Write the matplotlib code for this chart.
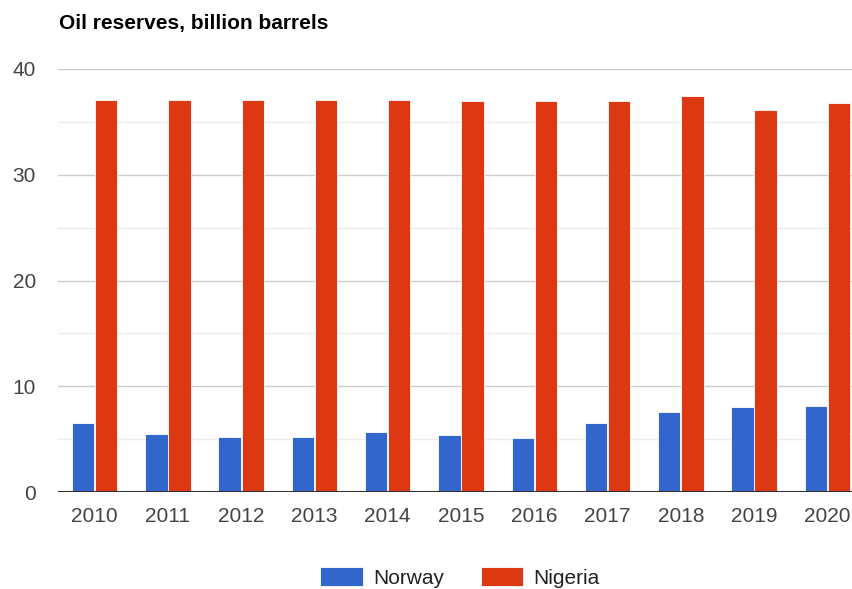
import matplotlib
matplotlib.use("Agg")
import matplotlib.pyplot as plt
import numpy as np

years = ["2010", "2011", "2012", "2013", "2014", "2015", "2016", "2017", "2018", "2019", "2020"]
norway = [6.55, 5.5, 5.2, 5.2, 5.65, 5.35, 5.1, 6.55, 7.6, 8.0, 8.15]
nigeria = [37.1, 37.1, 37.1, 37.1, 37.1, 37.0, 37.0, 37.0, 37.4, 36.1, 36.8]
series_names = ["Norway", "Nigeria"]
colors = ["#3366CC", "#DC3912"]
title = "Oil reserves, billion barrels"

plt.rcParams['font.family'] = ['Liberation Sans', 'DejaVu Sans']

W, H = 852, 589
fig = plt.figure(figsize=(W / 100, H / 100), dpi=100)
left, right, top, bottom = 58, 864, 69, 492
ax = fig.add_axes([left / W, 1 - bottom / H, (right - left) / W, (bottom - top) / H])

x = np.arange(len(years))
bw = 0.305
off = 0.158
ax.bar(x - off, norway, bw, color=colors[0], edgecolor="#ffffff", linewidth=0.6, label=series_names[0], zorder=3)
ax.bar(x + off, nigeria, bw, color=colors[1], edgecolor="#ffffff", linewidth=0.6, label=series_names[1], zorder=3)

ax.set_xlim(-0.5, len(years) - 0.5)
ax.set_ylim(0, 40)
ax.set_yticks([0, 10, 20, 30, 40])
ax.set_yticks([5, 15, 25, 35], minor=True)
ax.set_xticks(x)
ax.set_xticklabels(years)
ax.grid(axis="y", which="major", color="#cccccc", linewidth=1, zorder=0)
ax.grid(axis="y", which="minor", color="#ebebeb", linewidth=1, zorder=0)
ax.axhline(0, color="#333333", linewidth=1.5, zorder=4)
for s in ax.spines.values():
    s.set_visible(False)
ax.tick_params(axis="both", which="both", length=0, labelsize=15, labelcolor="#444444")
ax.tick_params(axis="y", pad=16)
ax.tick_params(axis="x", pad=11)

fig.text(59 / W, 1 - 28.5 / H, title, fontsize=15, fontweight="bold", color="#000000", va="baseline", ha="left")

leg = fig.legend(loc="center", bbox_to_anchor=(460 / W, 1 - 577.5 / H), ncol=2, frameon=False,
                 fontsize=15, handlelength=2.05, handleheight=1.04, handletextpad=0.48,
                 columnspacing=1.76, borderpad=0, borderaxespad=0)
for t in leg.get_texts():
    t.set_color("#222222")

fig.savefig("out.png", dpi=100)
